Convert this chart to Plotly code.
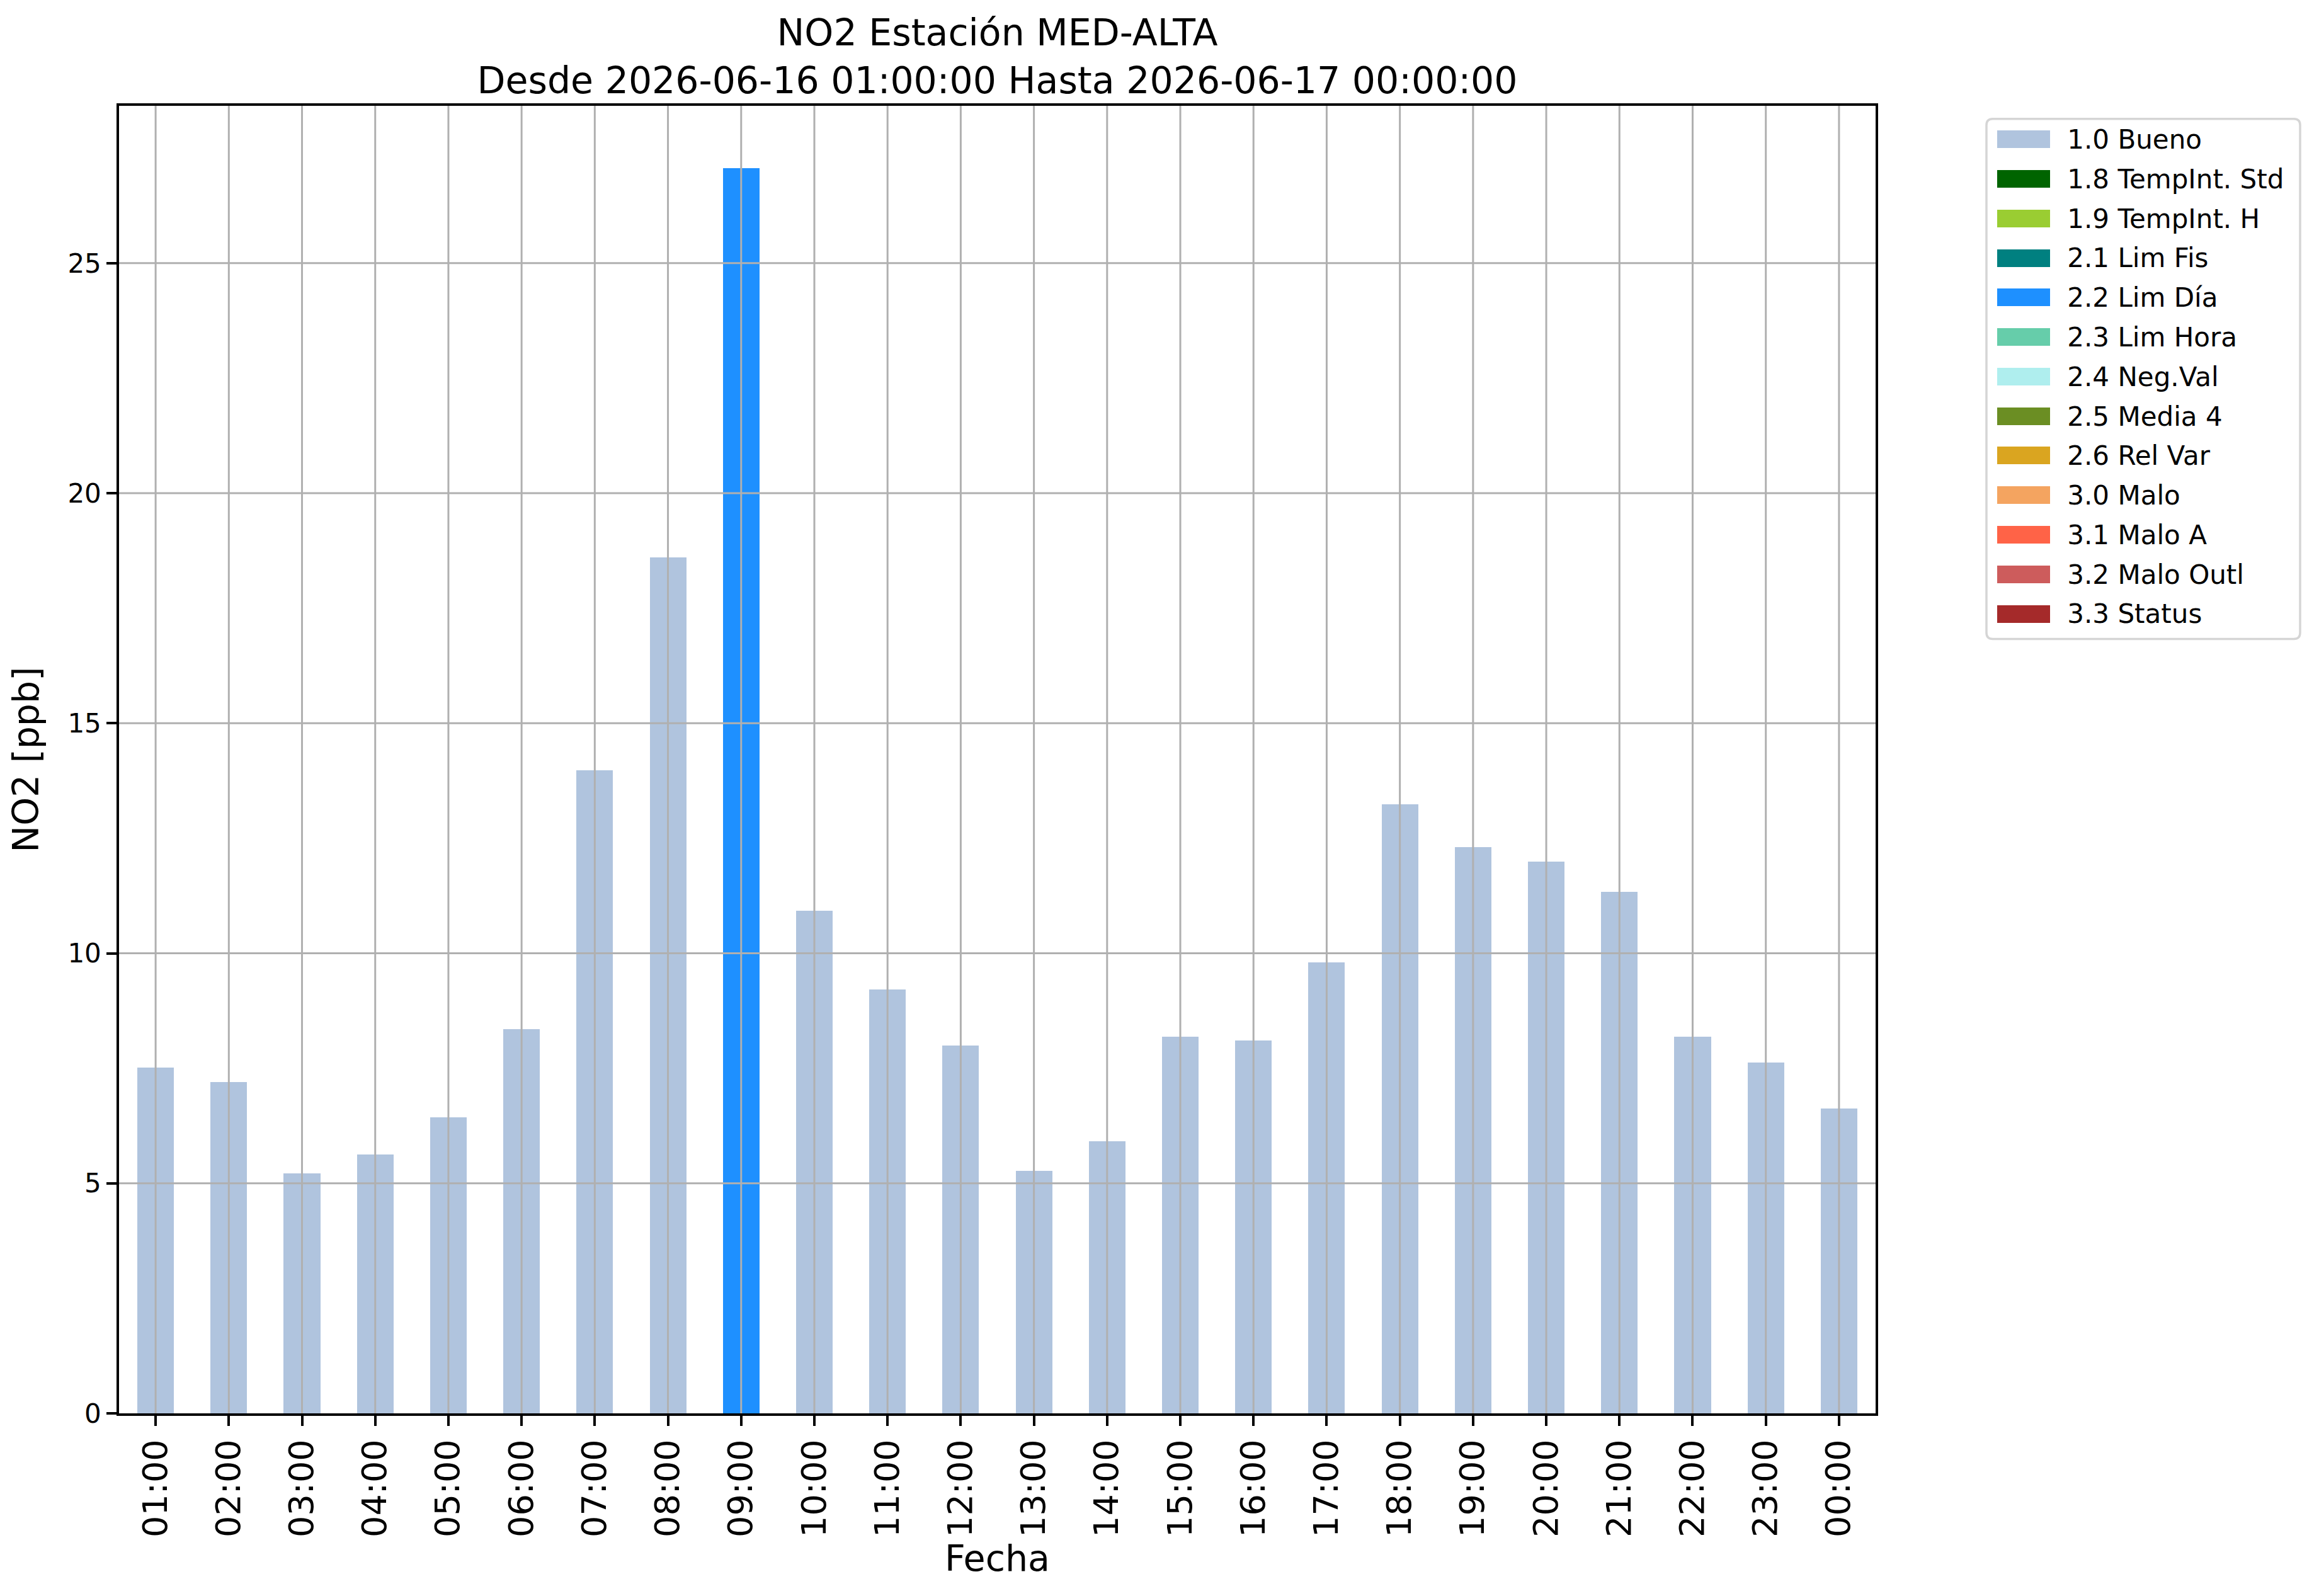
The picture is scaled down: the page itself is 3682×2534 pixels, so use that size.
import plotly.graph_objects as go

# ---------------- data ----------------
hours = ["01:00", "02:00", "03:00", "04:00", "05:00", "06:00", "07:00", "08:00",
         "09:00", "10:00", "11:00", "12:00", "13:00", "14:00", "15:00", "16:00",
         "17:00", "18:00", "19:00", "20:00", "21:00", "22:00", "23:00", "00:00"]
no2_values = [7.52, 7.20, 5.21, 5.62, 6.43, 8.35, 13.98, 18.61,
              27.06, 10.93, 9.22, 8.00, 5.27, 5.91, 8.19, 8.10,
              9.80, 13.24, 12.31, 11.99, 11.34, 8.19, 7.62, 6.62]
flags = ["1.0 Bueno"] * 8 + ["2.2 Lim Día"] + ["1.0 Bueno"] * 15

flag_labels = ["1.0 Bueno", "1.8 TempInt. Std", "1.9 TempInt. H", "2.1 Lim Fis",
               "2.2 Lim Día", "2.3 Lim Hora", "2.4 Neg.Val", "2.5 Media 4",
               "2.6 Rel Var", "3.0 Malo", "3.1 Malo A", "3.2 Malo Outl", "3.3 Status"]
flag_colors = ["#B0C4DE", "#006400", "#9ACD32", "#008080", "#1E90FF", "#66CDAA",
               "#AFEEEE", "#6B8E23", "#DAA520", "#F4A460", "#FF6347", "#CD5C5C",
               "#A52A2A"]
y_ticks = [0, 5, 10, 15, 20, 25]

title_line1 = "NO2 Estación MED-ALTA"
title_line2 = "Desde 2026-06-16 01:00:00 Hasta 2026-06-17 00:00:00"

# ---------------- layout geometry ----------------
W, H = 3682, 2534
ML, MR, MT, MB = 181, 20, 160, 298
PW = W - ML - MR
PH = H - MT - MB
AX_RIGHT = 2970   # right edge of main axes in px

def fx(px):
    return (px - ML) / PW

def fy(py):
    return (H - MB - py) / PH

FONT = "DejaVu Sans"
GRID = "#b0b0b0"

color_map = dict(zip(flag_labels, flag_colors))
bar_colors = [color_map[f] for f in flags]

fig = go.Figure()

fig.add_trace(go.Bar(
    x=hours, y=no2_values, width=0.5,
    marker=dict(color=bar_colors, line=dict(width=0)),
    xaxis="x", yaxis="y", showlegend=False,
    hovertemplate="%{x}: %{y} ppb<extra></extra>",
))

# legend drawn as a small bar subplot
fig.add_trace(go.Bar(
    x=[1] * len(flag_labels), y=flag_labels, orientation="h", width=0.446,
    marker=dict(color=flag_colors, line=dict(width=0)),
    xaxis="x2", yaxis="y2", showlegend=False, hoverinfo="skip",
))

shapes = []
for i in range(len(hours)):
    shapes.append(dict(type="line", xref="x", yref="y domain", x0=i, x1=i, y0=0, y1=1,
                       line=dict(color=GRID, width=3), layer="above"))
for v in y_ticks[1:]:
    shapes.append(dict(type="line", xref="x domain", yref="y", x0=0, x1=1, y0=v, y1=v,
                       line=dict(color=GRID, width=3), layer="above"))

# legend frame (rounded)
LDX, LDY = -7, -7
x0, x1 = fx(3153 + LDX), fx(3651 + LDX)
y0, y1 = fy(1013.5 + LDY), fy(187.7 + LDY)
rx, ry = 10 / PW, 10 / PH
path = (f"M {x0+rx},{y0} L {x1-rx},{y0} Q {x1},{y0} {x1},{y0+ry} "
        f"L {x1},{y1-ry} Q {x1},{y1} {x1-rx},{y1} L {x0+rx},{y1} "
        f"Q {x0},{y1} {x0},{y1-ry} L {x0},{y0+ry} Q {x0},{y0} {x0+rx},{y0} Z")
shapes.append(dict(type="path", xref="paper", yref="paper", path=path,
                   line=dict(color="#d5d5d5", width=3.5), fillcolor="rgba(255,255,255,0.8)",
                   layer="below"))

fig.update_layout(
    width=W, height=H,
    margin=dict(l=ML, r=MR, t=MT, b=MB, pad=0),
    paper_bgcolor="white", plot_bgcolor="white",
    font=dict(family=FONT, color="black", size=42),
    bargap=0, showlegend=False,
    title=dict(text=title_line1 + "<br>" + title_line2,
               x=fx((ML + AX_RIGHT) / 2), xref="paper", xanchor="center",
               y=1, yref="paper", yanchor="bottom", pad=dict(b=96),
               font=dict(family=FONT, size=58.5, color="black")),
    xaxis=dict(
        domain=[0, fx(AX_RIGHT)], type="category", categoryorder="array", categoryarray=hours,
        range=[-0.5, len(hours) - 0.5],
        showline=True, linecolor="black", linewidth=3.5, mirror=True,
        ticks="outside", ticklen=16, tickwidth=3.5, tickcolor="black",
        tickangle=-90, tickfont=dict(size=54, family=FONT),
        showgrid=False, zeroline=False,
        title=dict(text="Fecha", font=dict(size=57, family=FONT), standoff=12),
        anchor="y",
    ),
    yaxis=dict(
        domain=[0, 1], range=[0, 28.42],
        tickmode="array", tickvals=y_ticks, ticktext=[str(v) for v in y_ticks],
        showline=True, linecolor="black", linewidth=3.5, mirror=True,
        ticks="outside", ticklen=16, tickwidth=3.5, tickcolor="black",
        tickfont=dict(size=42, family=FONT),
        showgrid=False, zeroline=False,
        title=dict(text="NO2 [ppb]", font=dict(size=57, family=FONT), standoff=30),
        anchor="x",
    ),
    xaxis2=dict(domain=[fx(3170 + LDX), fx(3254.3 + LDX)], range=[0, 1], visible=False,
                anchor="y2", fixedrange=True),
    yaxis2=dict(domain=[fy(1005 + LDY), fy(189.1 + LDY)], type="category",
                categoryorder="array", categoryarray=flag_labels,
                range=[len(flag_labels) - 0.5, -0.5],
                side="right", anchor="x2", showline=False, showgrid=False,
                zeroline=False, ticks="", ticklabelstandoff=26,
                tickfont=dict(size=42, family=FONT, color="black"), fixedrange=True),
    shapes=shapes,
)

fig.write_html("out.html")
